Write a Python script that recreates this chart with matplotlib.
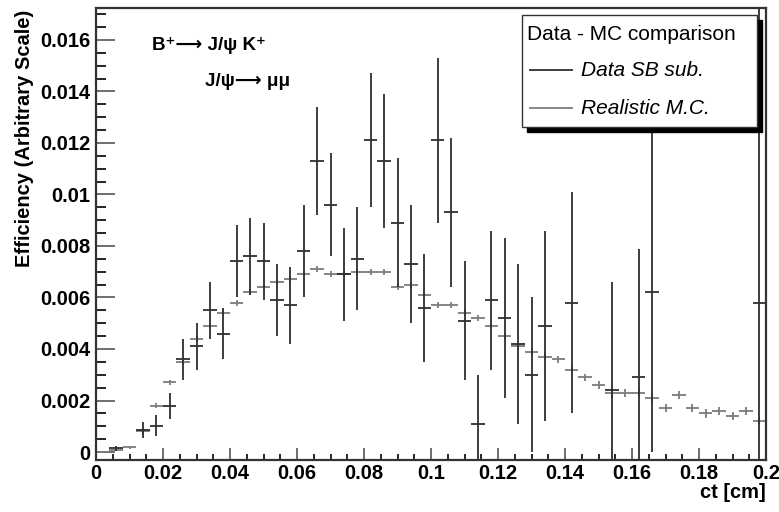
import numpy as np
import matplotlib
matplotlib.use("Agg")
import matplotlib.pyplot as plt
from matplotlib.ticker import MultipleLocator, FuncFormatter
from matplotlib.patches import Rectangle
from matplotlib.lines import Line2D

plt.rcParams['font.family'] = ['Liberation Sans', 'DejaVu Sans']

# 50 bins of width 0.004 in ct [cm]
bin_width = 0.004
ct = np.arange(50) * bin_width + bin_width / 2

nan = np.nan
data_eff = [nan, 0.00015, nan, 0.00085, 0.00102, 0.0018, 0.0036, 0.0041, 0.0055, 0.0046,
            0.0074, 0.0076, 0.0074, 0.0059, 0.0057, 0.0078, 0.0113, 0.0096, 0.0069, 0.0075,
            0.0121, 0.0113, 0.0089, 0.0073, 0.0056, 0.0121, 0.0093, 0.0051, 0.0011, 0.0059,
            0.0052, 0.0042, 0.0030, 0.0049, nan, 0.0058, nan, nan, 0.0024, nan,
            0.0029, 0.0062, nan, nan, nan, nan, nan, nan, nan, 0.0058]
data_err = [0, 0.0001, 0, 0.0003, 0.0004, 0.0005, 0.0008, 0.0009, 0.0011, 0.0010,
            0.0014, 0.0015, 0.0015, 0.0014, 0.0015, 0.0018, 0.0021, 0.0020, 0.0018, 0.0020,
            0.0026, 0.0026, 0.0025, 0.0023, 0.0021, 0.0032, 0.0029, 0.0023, 0.0019, 0.0027,
            0.0031, 0.0031, 0.0030, 0.0037, 0, 0.0043, 0, 0, 0.0042, 0,
            0.0050, 0.0062, 0, 0, 0, 0, 0, 0, 0, 0.0125]

mc_eff = [0.00002, 0.00008, 0.00018, 0.0008, 0.0018, 0.0027, 0.0035, 0.0044, 0.0049, 0.0054,
          0.0058, 0.0062, 0.0064, 0.0066, 0.0067, 0.0069, 0.0071, 0.0069, 0.0069, 0.0070,
          0.0070, 0.0070, 0.0064, 0.0065, 0.0061, 0.0057, 0.0057, 0.0054, 0.0052, 0.0049,
          0.0045, 0.0041, 0.0039, 0.0037, 0.0036, 0.0032, 0.0029, 0.0026, 0.0023, 0.0023,
          0.0023, 0.0021, 0.0017, 0.0022, 0.0017, 0.0015, 0.0016, 0.0014, 0.0016, 0.0012]
mc_err = [0.00003, 0.00005, 0.00005, 0.0001, 0.0001, 0.0001, 0.00012, 0.00012, 0.00012, 0.00012,
          0.00012, 0.00012, 0.00012, 0.00012, 0.00012, 0.00012, 0.00012, 0.00012, 0.00012, 0.00012,
          0.00012, 0.00012, 0.00012, 0.00012, 0.00012, 0.00012, 0.00012, 0.00012, 0.00012, 0.00012,
          0.00013, 0.00013, 0.00013, 0.00013, 0.00013, 0.00014, 0.00014, 0.00014, 0.0002, 0.00015,
          0.00015, 0.00015, 0.00015, 0.00016, 0.00016, 0.00016, 0.00016, 0.00016, 0.00016, 0.00016]

data_color = '#2e2e2e'
mc_color = '#7c7c7c'

W, H = 779, 512
fig = plt.figure(figsize=(W / 100, H / 100), dpi=100)
ax = fig.add_axes([96 / W, 1 - 460 / H, (766 - 96) / W, (460 - 8) / H])

ax.errorbar(ct, mc_eff, xerr=bin_width / 2, yerr=mc_err, fmt='none',
            ecolor=mc_color, elinewidth=1.3)
ax.errorbar(ct, data_eff, xerr=bin_width / 2, yerr=data_err, fmt='none',
            ecolor=data_color, elinewidth=1.3)

ax.set_xlim(0, 0.2)
ax.set_ylim(-0.00031, 0.01724)

fmt = FuncFormatter(lambda v, p: '%g' % round(v, 4))
ax.xaxis.set_major_locator(MultipleLocator(0.02))
ax.xaxis.set_minor_locator(MultipleLocator(0.005))
ax.yaxis.set_major_locator(MultipleLocator(0.002))
ax.yaxis.set_minor_locator(MultipleLocator(0.0005))
ax.xaxis.set_major_formatter(fmt)
ax.yaxis.set_major_formatter(fmt)

ax.tick_params(axis='y', which='major', direction='in', length=14, width=1.2,
               pad=4, labelsize=14.5, color='#555555')
ax.tick_params(axis='y', which='minor', direction='in', length=7, width=1.2)
ax.tick_params(axis='x', which='major', direction='in', length=9, width=1.2,
               pad=3, labelsize=14.5, color='#555555')
ax.tick_params(axis='x', which='minor', direction='in', length=4.5, width=1.2)
for lab in ax.get_xticklabels() + ax.get_yticklabels():
    lab.set_fontweight('bold')

for s in ax.spines.values():
    s.set_linewidth(1.6)
    s.set_color('#333333')

fig.text(25 / W, 1 - 10 / H, 'Efficiency (Arbitrary Scale)', rotation=90,
         ha='center', va='top', fontsize=14.5, fontweight='bold')
fig.text(766 / W, 1 - 493 / H, 'ct [cm]', ha='right', va='center',
         fontsize=14.5, fontweight='bold')

# decay labels
fig.text(152 / W, 1 - 45 / H, 'B⁺⟶ J/ψ K⁺', ha='left', va='center',
         fontsize=13.5, fontweight='bold')
fig.text(205 / W, 1 - 82 / H, 'J/ψ⟶ μμ', ha='left', va='center',
         fontsize=13.5, fontweight='bold')

# legend box with shadow
lx0, lx1, ly0, ly1 = 522, 757, 15, 127
shadow = Rectangle((lx0 / W + 5 / W, 1 - ly1 / H - 5 / H), (lx1 - lx0) / W, (ly1 - ly0) / H,
                   transform=fig.transFigure, facecolor='black', edgecolor='black', zorder=5)
box = Rectangle((lx0 / W, 1 - ly1 / H), (lx1 - lx0) / W, (ly1 - ly0) / H,
                transform=fig.transFigure, facecolor='white', edgecolor='#333333',
                linewidth=1.0, zorder=6)
fig.patches.extend([shadow, box])
fig.text(527 / W, 1 - 35 / H, 'Data - MC comparison', ha='left', va='center',
         fontsize=15, zorder=7)
for yy, col, label in [(70, data_color, 'Data SB sub.'), (108, mc_color, 'Realistic M.C.')]:
    fig.add_artist(Line2D([530 / W, 572 / W], [1 - yy / H, 1 - yy / H],
                          transform=fig.transFigure, color=col, linewidth=1.3, zorder=7))
    fig.text(581 / W, 1 - yy / H, label, ha='left', va='center', fontsize=15,
             style='italic', zorder=7)

fig.savefig('out.png', dpi=100)
